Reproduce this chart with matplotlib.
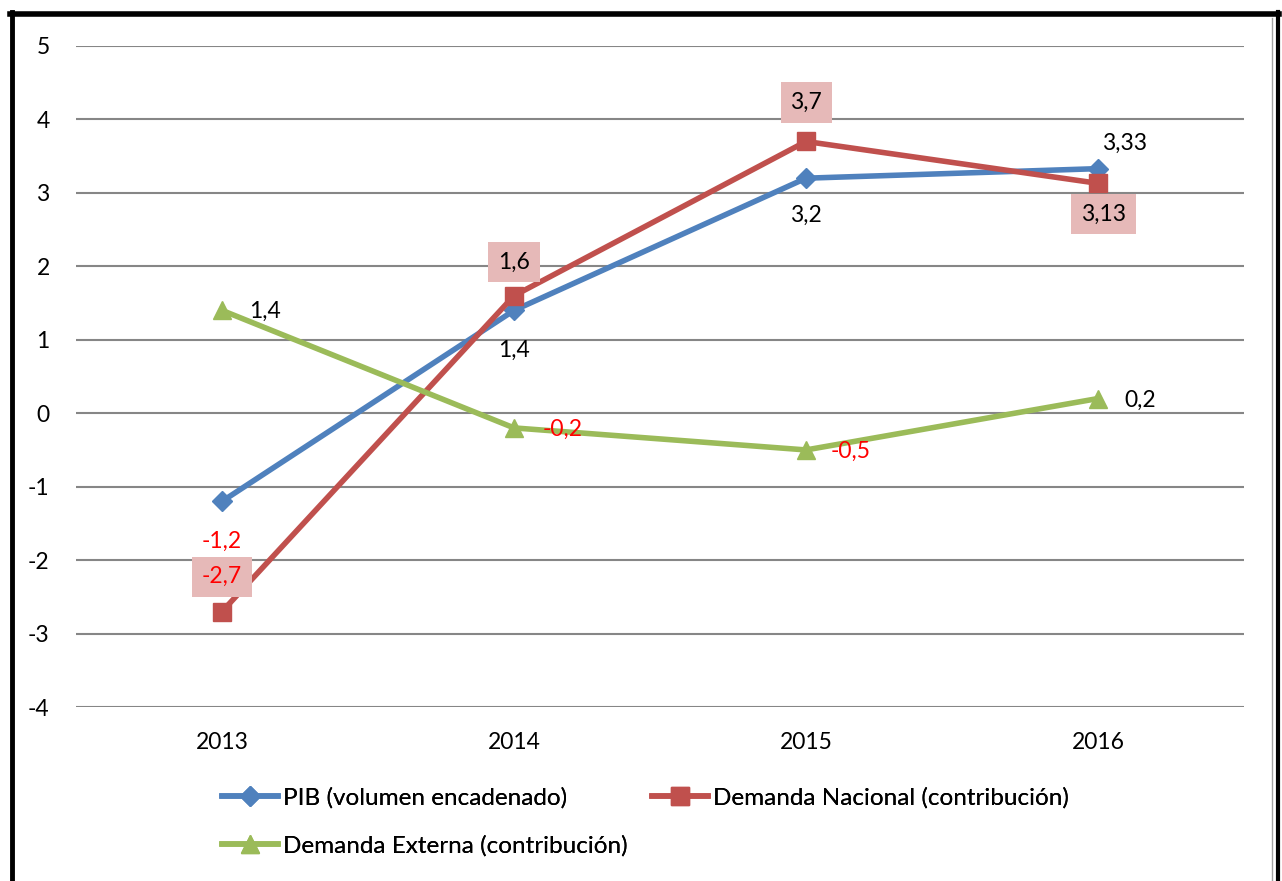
import matplotlib.pyplot as plt
from matplotlib.lines import Line2D

plt.rcParams['font.family'] = ['Lato', 'DejaVu Sans']
plt.rcParams['axes.unicode_minus'] = False

years = ['2013', '2014', '2015', '2016']
pib = [-1.2, 1.4, 3.2, 3.33]
dem_nac = [-2.7, 1.6, 3.7, 3.13]
dem_ext = [1.4, -0.2, -0.5, 0.2]

pib_lbl = ['-1,2', '1,4', '3,2', '3,33']
nac_lbl = ['-2,7', '1,6', '3,7', '3,13']
ext_lbl = ['1,4', '-0,2', '-0,5', '0,2']

blue = '#4F81BD'
red = '#C0504D'
green = '#9BBB59'
pink = '#E6B9B8'

fig = plt.figure(figsize=(12.82, 8.81), dpi=100)
ax = fig.add_axes([0.0593, 0.1975, 0.9111, 0.7503])

x = [0.5, 1.5, 2.5, 3.5]
ax.plot(x, pib, color=blue, lw=4, marker='D', ms=10, zorder=3)
ax.plot(x, dem_nac, color=red, lw=4, marker='s', ms=13, zorder=3)
ax.plot(x, dem_ext, color=green, lw=4, marker='^', ms=13, zorder=3)

ax.set_xlim(0, 4)
ax.set_ylim(-4, 5)
ax.set_yticks(range(-4, 6))
ax.set_xticks(x)
ax.set_xticklabels(years)
ax.grid(axis='y', color='#868686', lw=1.5)
ax.set_axisbelow(True)
for s in ax.spines.values():
    s.set_visible(False)
ax.tick_params(length=0, labelsize=16.5)
ax.tick_params(axis='y', pad=19)
ax.tick_params(axis='x', pad=18)

fs = 16.5
def lab(t, xy, dx, dy, c='black', bx=None):
    ax.annotate(t, xy, xytext=(dx, dy), textcoords='offset points', ha='center', va='center',
                color=c, fontsize=fs, bbox=bx, zorder=4)

# PIB labels
lab(pib_lbl[0], (x[0], pib[0]), 0, -29, 'red')
lab(pib_lbl[1], (x[1], pib[1]), 0, -29)
lab(pib_lbl[2], (x[2], pib[2]), 0, -27)
lab(pib_lbl[3], (x[3], pib[3]), 19, 18)

# Demanda Nacional labels with boxes
box = dict(boxstyle='square,pad=0.42', fc=pink, ec='none')
lab(nac_lbl[0], (x[0], dem_nac[0]), 0, 25, 'red', box)
lab(nac_lbl[1], (x[1], dem_nac[1]), 0, 24, 'black', box)
lab(nac_lbl[2], (x[2], dem_nac[2]), 0, 28, 'black', box)
lab(nac_lbl[3], (x[3], dem_nac[3]), 4, -22, 'black', box)

# Demanda Externa labels
ext_col = ['black', 'red', 'red', 'black']
ext_dx = [31, 35, 32, 30]
for xi, yi, t, c, dx in zip(x, dem_ext, ext_lbl, ext_col, ext_dx):
    lab(t, (xi, yi), dx, -1, c)

# legend entries placed one by one
entries = [
    (Line2D([], [], color=blue, lw=4, marker='D', ms=10), 'PIB (volumen encadenado)', 222, 798),
    (Line2D([], [], color=red, lw=4, marker='s', ms=13), 'Demanda Nacional (contribución)', 652, 798),
    (Line2D([], [], color=green, lw=4, marker='^', ms=13), 'Demanda Externa (contribución)', 222, 846),
]
for h, name, px, py in entries:
    leg = fig.legend([h], [name], loc='center left', bbox_to_anchor=(px / 1282, 1 - py / 881),
                     frameon=False, fontsize=17.5, handlelength=2.3, handletextpad=0.2,
                     borderpad=0, borderaxespad=0)
    fig.add_artist(leg)

# outer frame
fig.add_artist(Line2D([0.0095, 0.0095], [0, 0.986], transform=fig.transFigure, color='black', lw=3.5))
fig.add_artist(Line2D([0.008, 0.998], [0.984, 0.984], transform=fig.transFigure, color='black', lw=4))
fig.add_artist(Line2D([0.9967, 0.9967], [0, 0.986], transform=fig.transFigure, color='black', lw=3))
fig.add_artist(Line2D([0.9925, 0.9925], [0, 0.98], transform=fig.transFigure, color='#A0A0A0', lw=1))

fig.savefig('out.png', dpi=100)
